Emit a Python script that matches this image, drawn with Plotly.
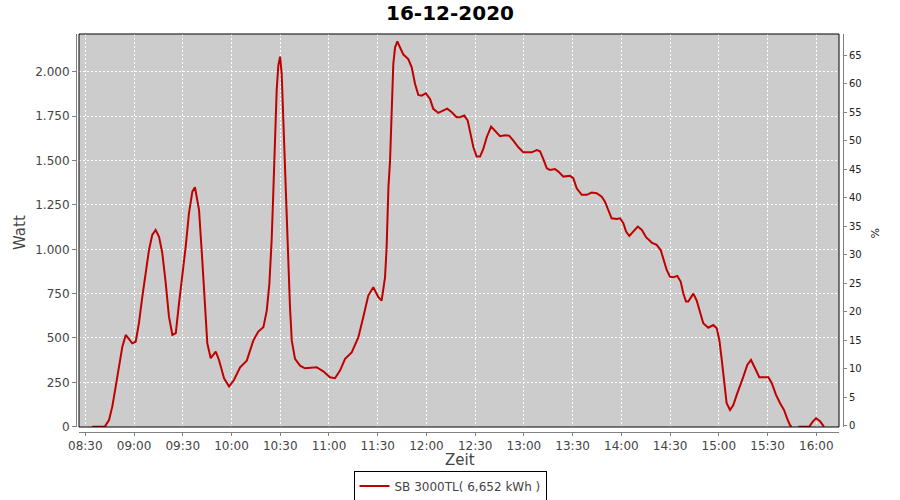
import plotly.graph_objects as go

DAY = "2020-12-16"
title_text = "16-12-2020"
series_name = "SB 3000TL( 6,652 kWh )"

times = [
    "08:34:18", "08:42:00", "08:44:36", "08:46:36", "08:48:42", "08:50:42", "08:52:48", "08:54:54",
    "08:58:54", "09:01:00", "09:03:00", "09:05:06", "09:07:12", "09:09:12", "09:11:12", "09:13:18",
    "09:15:24", "09:17:24", "09:19:30", "09:21:30", "09:23:36", "09:25:42", "09:27:42", "09:29:42",
    "09:31:48", "09:33:48", "09:35:54", "09:37:30", "09:40:00", "09:42:00", "09:43:42", "09:45:06",
    "09:47:12", "09:50:18", "09:52:18", "09:55:24", "09:58:30", "10:01:30", "10:05:18", "10:09:24",
    "10:13:24", "10:16:30", "10:19:36", "10:21:42", "10:23:18", "10:24:42", "10:25:42", "10:26:48",
    "10:27:48", "10:28:48", "10:29:54", "10:30:54", "10:31:54", "10:32:54", "10:34:00", "10:35:00",
    "10:36:00", "10:37:06", "10:39:06", "10:42:12", "10:45:12", "10:52:24", "10:56:30", "11:00:36",
    "11:03:42", "11:06:48", "11:09:54", "11:14:00", "11:18:06", "11:21:06", "11:24:12", "11:27:18",
    "11:30:24", "11:32:24", "11:34:30", "11:35:30", "11:36:36", "11:37:36", "11:38:36", "11:39:36",
    "11:40:42", "11:42:06", "11:43:42", "11:45:48", "11:48:48", "11:50:54", "11:53:00", "11:55:00",
    "11:57:06", "11:59:36", "12:02:12", "12:04:12", "12:07:18", "12:10:24", "12:12:48", "12:15:36",
    "12:18:36", "12:20:36", "12:23:18", "12:25:24", "12:26:48", "12:28:54", "12:30:54", "12:33:00",
    "12:35:00", "12:37:06", "12:39:48", "12:42:12", "12:45:18", "12:48:24", "12:50:54", "12:53:30",
    "12:56:36", "12:59:36", "13:04:48", "13:07:54", "13:09:54", "13:11:54", "13:14:06", "13:16:06",
    "13:19:06", "13:21:12", "13:24:18", "13:28:24", "13:30:24", "13:32:30", "13:35:36", "13:38:42",
    "13:41:42", "13:44:48", "13:47:54", "13:49:54", "13:52:00", "13:54:00", "13:57:06", "13:59:12",
    "14:01:12", "14:02:54", "14:04:54", "14:07:24", "14:10:06", "14:12:36", "14:15:12", "14:18:42",
    "14:21:42", "14:24:12", "14:26:12", "14:27:54", "14:29:54", "14:31:54", "14:34:24", "14:36:30",
    "14:38:06", "14:39:48", "14:41:12", "14:44:18", "14:46:24", "14:48:24", "14:50:24", "14:53:30",
    "14:56:36", "14:58:42", "15:00:18", "15:01:48", "15:03:12", "15:04:48", "15:06:54", "15:08:54",
    "15:11:00", "15:13:00", "15:15:06", "15:17:30", "15:19:48", "15:22:18", "15:24:54", "15:27:48",
    "15:30:30", "15:32:36", "15:35:12", "15:37:42", "15:40:06", "15:42:12", "15:43:48", "15:44:48",
    "15:46:48", "15:48:54", "15:55:42", "15:57:48", "15:59:48", "16:02:18", "16:04:42",
]

watts = [
    0, 0, 37, 113, 226, 338, 451, 517,
    470, 479, 583, 733, 884, 996, 1081, 1109,
    1071, 978, 809, 620, 517, 527, 696, 846,
    1015, 1203, 1325, 1350, 1222, 940, 714, 470,
    386, 423, 376, 273, 226, 263, 335, 372,
    485, 536, 560, 654, 805, 1049, 1312, 1613,
    1895, 2036, 2086, 1989, 1726, 1387, 1162, 899,
    673, 485, 382, 344, 329, 335, 312, 278,
    273, 316, 382, 419, 504, 617, 739, 786,
    730, 711, 842, 1012, 1350, 1500, 1838, 2045,
    2139, 2173, 2139, 2098, 2073, 2027, 1932, 1870,
    1866, 1880, 1848, 1792, 1769, 1782, 1793, 1773,
    1745, 1745, 1754, 1726, 1669, 1575, 1523, 1523,
    1566, 1632, 1692, 1669, 1638, 1643, 1641, 1613,
    1575, 1547, 1547, 1560, 1553, 1510, 1457, 1447,
    1453, 1438, 1410, 1414, 1401, 1344, 1307, 1307,
    1320, 1316, 1297, 1269, 1222, 1175, 1171, 1175,
    1147, 1100, 1075, 1100, 1128, 1109, 1068, 1038,
    1025, 996, 940, 884, 846, 842, 850, 818,
    752, 705, 705, 750, 710, 639, 583, 558,
    573, 555, 489, 376, 245, 132, 94, 122,
    179, 226, 282, 348, 376, 329, 279, 279,
    279, 245, 179, 132, 94, 42, 8, 0,
    None, 0, 0, 28, 47, 30, 0,
]

watt_ticks = [0, 250, 500, 750, 1000, 1250, 1500, 1750, 2000]
pct_ticks = [0, 5, 10, 15, 20, 25, 30, 35, 40, 45, 50, 55, 60, 65]

x_vals = [f"{DAY} {t}" for t in times]

AX_GRAY = "#808080"
TXT = "#444444"
FONT = "DejaVu Sans"

fig = go.Figure()
fig.add_trace(go.Scatter(
    x=x_vals, y=watts, mode="lines", name=series_name,
    line=dict(color="#c00000", width=2), connectgaps=False,
))
# empty percentage series so the right axis is drawn
fig.add_trace(go.Scatter(x=[x_vals[0]], y=[None], yaxis="y2", mode="lines",
                         showlegend=False, hoverinfo="skip"))

W = 900
left_px, right_px, top_px, bottom_px = 76, 843, 34, 432
pw = right_px - left_px
ph = bottom_px - top_px
plot_l, plot_r, plot_b = 79, 839, 427

fig.update_layout(
    width=W, height=500,
    margin=dict(l=left_px, r=W - right_px, t=top_px, b=500 - bottom_px, autoexpand=False),
    paper_bgcolor="white", plot_bgcolor="#cccccc",
    separators=",.",
    font=dict(family=FONT, size=12, color=TXT),
    title=dict(text=f"<b>{title_text}</b>", x=0.5, xref="container", xanchor="center",
               y=1 - 13 / 500, yref="container", yanchor="middle",
               font=dict(family=FONT, size=20, color="#000000")),
    xaxis=dict(
        type="date",
        domain=[(plot_l - left_px) / pw, (plot_r - left_px) / pw],
        anchor="free", position=0,
        range=[f"{DAY} 08:26:07", f"{DAY} 16:13:58"],
        tick0=f"{DAY} 08:30", dtick=30 * 60 * 1000, tickformat="%H:%M",
        showgrid=True, gridcolor="white", griddash="2px,2px", gridwidth=1,
        showline=True, linecolor=AX_GRAY, linewidth=1,
        ticks="outside", ticklen=3, tickcolor=AX_GRAY,
        tickfont=dict(family=FONT, size=12, color=TXT),
        zeroline=False, automargin=False,
    ),
    yaxis=dict(
        domain=[(bottom_px - plot_b) / ph, 1],
        anchor="free", position=0,
        range=[-2, 2214],
        tickvals=watt_ticks, tickformat=",d",
        showgrid=True, gridcolor="white", griddash="2px,2px", gridwidth=1,
        showline=True, linecolor=AX_GRAY, linewidth=1,
        ticks="outside", ticklen=4, tickcolor=AX_GRAY,
        tickfont=dict(family=FONT, size=12, color=TXT),
        zeroline=False, automargin=False,
    ),
    yaxis2=dict(
        overlaying="y", side="right", anchor="free", position=1,
        range=[-0.2, 68.7],
        tickvals=pct_ticks,
        showgrid=False, zeroline=False,
        showline=True, linecolor=AX_GRAY, linewidth=1,
        ticks="outside", ticklen=3, tickcolor=AX_GRAY,
        tickfont=dict(family=FONT, size=10, color="#222222"),
        automargin=False,
    ),
    showlegend=True,
    legend=dict(
        orientation="h", xref="container", x=0.5, xanchor="center",
        yref="container", y=1 - 486 / 500, yanchor="middle",
        bordercolor="#000000", borderwidth=1, bgcolor="white",
        font=dict(family=FONT, size=12, color=TXT),
        itemwidth=30, tracegroupgap=0, valign="middle",
    ),
    shapes=[
        dict(type="rect", xref="x domain", yref="y domain", x0=0, x1=1, y0=0, y1=1,
             line=dict(color="#000000", width=1), fillcolor="rgba(0,0,0,0)", layer="above"),
    ],
    annotations=[
        dict(text="Watt", xref="paper", yref="paper", x=(20 - left_px) / pw, y=0.5,
             textangle=-90, showarrow=False, xanchor="center", yanchor="middle",
             font=dict(family=FONT, size=15, color=TXT)),
        dict(text="%", xref="paper", yref="paper", x=(875 - left_px) / pw, y=0.5,
             textangle=90, showarrow=False, xanchor="center", yanchor="middle",
             font=dict(family=FONT, size=11, color="#222222")),
        dict(text="Zeit", xref="paper", yref="paper", x=0.5, y=-(460 - bottom_px) / ph,
             showarrow=False, xanchor="center", yanchor="middle",
             font=dict(family=FONT, size=15, color=TXT)),
    ],
)

fig.write_html("out.html", config={"displayModeBar": False},
               post_script="document.body.style.margin='0';document.body.style.overflow='hidden';")
